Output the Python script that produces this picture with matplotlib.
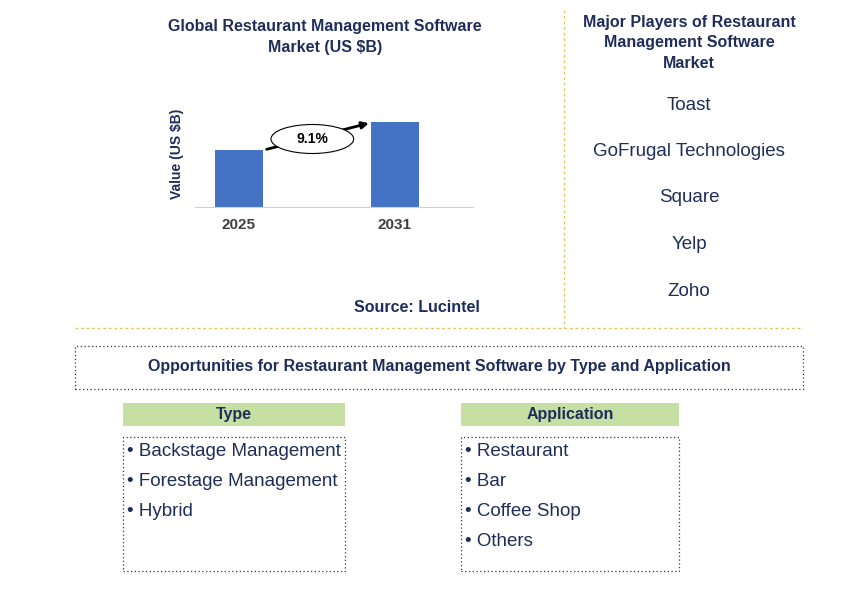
import matplotlib.pyplot as plt
from matplotlib.patches import Ellipse, Rectangle

plt.rcParams["font.family"] = "Liberation Sans"

years = ["2025", "2031"]
values = [5.7, 8.5]
cagr_label = "9.1%"
players = ["Toast", "GoFrugal Technologies", "Square", "Yelp", "Zoho"]
types = ["Backstage Management", "Forestage Management", "Hybrid"]
applications = ["Restaurant", "Bar", "Coffee Shop", "Others"]

W, H = 868, 592
navy = "#1F2D5A"
bar_color = "#4472C4"
gold = "#E6C65A"
green = "#C6E0A4"

fig = plt.figure(figsize=(W / 100, H / 100), dpi=100)


def fx(x):
    return x / W


def fy(y):
    return 1 - y / H


# bar chart
ax = fig.add_axes([fx(195), fy(207), fx(473) - fx(195), fy(100) - fy(207)])
ax.bar([0, 1], values, width=0.31, color=bar_color)
ax.set_xlim(-0.282, 1.5)
ax.set_ylim(0, 10.7)
ax.set_xticks([0, 1])
ax.set_xticklabels(years, fontsize=11, fontweight="bold", color="#404040")
ax.set_yticks([])
ax.tick_params(axis="x", length=0, pad=8)
for s in ["top", "right", "left"]:
    ax.spines[s].set_visible(False)
ax.spines["bottom"].set_color("#D0D0D0")
ax.set_ylabel("Value (US $B)", fontsize=10, fontweight="bold", color=navy, labelpad=8)
ax.annotate("", xy=(0.85, values[1] - 0.05), xytext=(0.16, values[0]),
            arrowprops=dict(arrowstyle="-|>", color="black", lw=2))
ax.add_patch(Ellipse((0.47, 6.8), 0.53, 2.9, facecolor="white", edgecolor="black", lw=0.8, zorder=3))
ax.text(0.47, 6.8, cagr_label, ha="center", va="center", fontsize=10, fontweight="bold", zorder=4)

fig.text(fx(325), fy(37), "Global Restaurant Management Software\nMarket (US $B)", ha="center",
         va="center", fontsize=11.5, fontweight="bold", color=navy, linespacing=1.55)
fig.text(fx(417), fy(308), "Source: Lucintel", ha="center", va="center", fontsize=11.5,
         fontweight="bold", color=navy)

# players
fig.text(fx(689), fy(43), "Major Players of Restaurant\nManagement Software\nMarket", ha="center",
         va="center", fontsize=11.5, fontweight="bold", color=navy, linespacing=1.5)
for i, p in enumerate(players):
    fig.text(fx(689), fy(105 + i * 46.5), p, ha="center", va="center", fontsize=13.5, color=navy)

# dividers
fig.add_artist(plt.Line2D([fx(75), fx(803)], [fy(328), fy(328)], color=gold, ls=(0, (2, 2)), lw=1))
fig.add_artist(plt.Line2D([fx(564), fx(564)], [fy(10), fy(328)], color=gold, ls=(0, (2, 2)), lw=1))


def box(x0, y0, x1, y1, **kw):
    fig.add_artist(Rectangle((fx(x0), fy(y1)), fx(x1 - x0), (y1 - y0) / H, transform=fig.transFigure, **kw))


box(75, 346, 803, 389, facecolor="none", edgecolor="#333333", ls=(0, (1, 2)), lw=0.9)
fig.text(fx(439), fy(367), "Opportunities for Restaurant Management Software by Type and Application",
         ha="center", va="center", fontsize=11.5, fontweight="bold", color=navy)

for x0, x1, title, items in [(123, 345, "Type", types), (461, 679, "Application", applications)]:
    box(x0, 403, x1, 426, facecolor=green, edgecolor="none")
    fig.text(fx((x0 + x1) / 2), fy(414), title, ha="center", va="center", fontsize=11.5,
             fontweight="bold", color=navy)
    box(x0, 437, x1, 571, facecolor="none", edgecolor="#333333", ls=(0, (1, 2)), lw=0.9)
    for i, it in enumerate(items):
        fig.text(fx(x0 + 4), fy(452 + i * 30), "\u2022 " + it, ha="left", va="center",
                 fontsize=13.5, color=navy)

fig.savefig("out.png", dpi=100)
